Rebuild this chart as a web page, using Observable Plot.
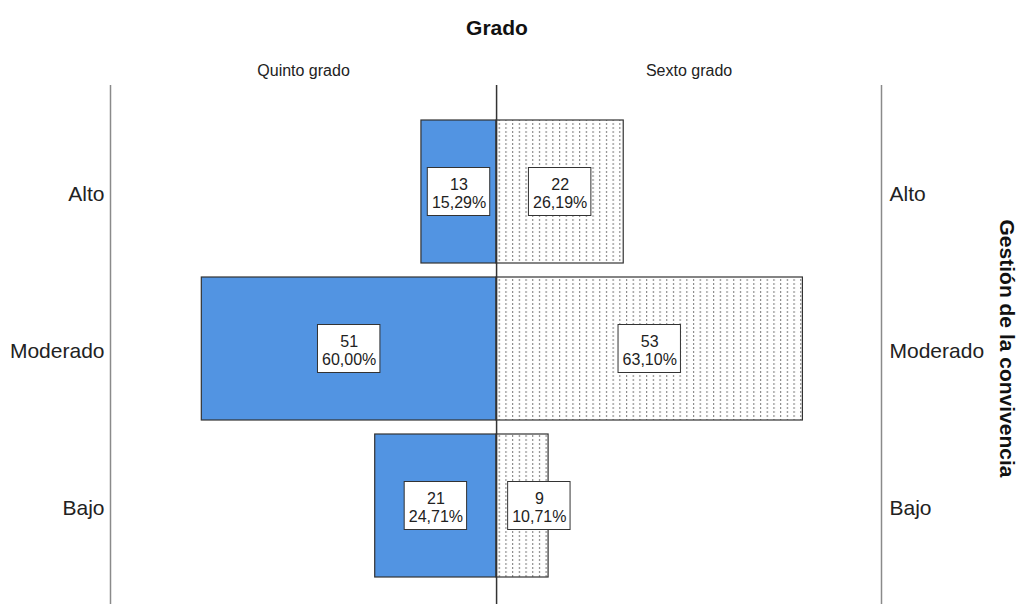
<!DOCTYPE html>
<html>
<head>
<meta charset="utf-8">
<script src="https://cdn.jsdelivr.net/npm/d3@7"></script>
<script src="https://cdn.jsdelivr.net/npm/@observablehq/plot@0.6"></script>
<style>
  body { margin: 0; background: #fff; }
  #title { width: 994px; height: 50px; text-align: center;
           font: bold 21px "Liberation Sans", Arial, sans-serif; line-height: 56px; color: #111; }
</style>
</head>
<body>
<div id="title">Grado</div>
<div id="chart"></div>
<script>
const levels = ["Alto", "Moderado", "Bajo"];
const grades = ["Quinto grado", "Sexto grado"];
const quintoCounts = [13, 51, 21];
const quintoPcts = ["15,29%", "60,00%", "24,71%"];
const sextoCounts = [22, 53, 9];
const sextoPcts = ["26,19%", "63,10%", "10,71%"];
const axisTitle = "Gestión de la convivencia";

const rows = [];
levels.forEach((lvl, i) => {
  rows.push({grade: grades[0], side: -1, level: lvl, count: quintoCounts[i], pct: quintoPcts[i]});
  rows.push({grade: grades[1], side: 1, level: lvl, count: sextoCounts[i], pct: sextoPcts[i]});
});

const xMin = -66.8, xMax = 66.6;
const boxHalf = 5.4;
const center = d => d.side * (d.count < 2 * boxHalf ? boxHalf + 2 : d.count / 2);

const font = '"Liberation Sans", Arial, sans-serif';

const defsMark = () => {
  const g = d3.create("svg:defs");
  const p = g.append("pattern").attr("id", "dots").attr("patternUnits", "userSpaceOnUse")
    .attr("width", 6.7).attr("height", 4);
  p.append("rect").attr("width", 6.7).attr("height", 4).attr("fill", "#fff");
  p.append("rect").attr("x", 3).attr("y", 1).attr("width", 1).attr("height", 2).attr("fill", "#777");
  return g.node();
};

const chart = Plot.plot({
  width: 1018,
  height: 554,
  marginTop: 54.5,
  marginBottom: 12.5,
  marginLeft: 110,
  marginRight: 137,
  x: {domain: [xMin, xMax], axis: null},
  y: {domain: levels, padding: 0.092, axis: null},
  style: {fontFamily: font, color: "#222", background: "#fff"},
  marks: [
    defsMark,
    Plot.ruleX([xMin, xMax], {stroke: "#8a8a8a", strokeWidth: 1.5, insetTop: -19.5, insetBottom: -13}),
    Plot.barX(rows.filter(d => d.side < 0), {
      x1: 0, x2: d => d.side * d.count, y: "level",
      fill: "#5294e2", stroke: "#333", strokeWidth: 1.2
    }),
    Plot.barX(rows.filter(d => d.side > 0), {
      x1: 0, x2: d => d.side * d.count, y: "level",
      fill: "url(#dots)", stroke: "#333", strokeWidth: 1.2
    }),
    Plot.ruleX([0], {stroke: "#333", strokeWidth: 1.5, insetTop: -19.5, insetBottom: -13}),
    Plot.barX(rows, {
      x1: d => center(d) - boxHalf, x2: d => center(d) + boxHalf, y: "level",
      insetTop: 47.5, insetBottom: 47.5,
      fill: "#fff", stroke: "#333", strokeWidth: 1
    }),
    Plot.text(rows, {
      x: center, y: "level", dy: 1, text: d => `${d.count}\n${d.pct}`,
      fontSize: 16, lineHeight: 1.15, fill: "#222"
    }),
    Plot.text(levels, {
      x: xMin, y: d => d, dx: -6, dy: 2, textAnchor: "end", fontSize: 21, fill: "#222"
    }),
    Plot.text(levels, {
      x: xMax, y: d => d, dx: 8, dy: 2, textAnchor: "start", fontSize: 21, fill: "#222"
    }),
    Plot.text(grades, {
      x: (d, i) => i === 0 ? xMin / 2 : xMax / 2, frameAnchor: "top", lineAnchor: "middle",
      dy: -34.5, fontSize: 16, fill: "#222"
    }),
    Plot.text([axisTitle], {
      frameAnchor: "right", textAnchor: "middle", lineAnchor: "middle", dx: 125, rotate: 90,
      fontSize: 21, fontWeight: "bold", fill: "#111"
    })
  ]
});
document.getElementById("chart").appendChild(chart);
</script>
</body>
</html>
